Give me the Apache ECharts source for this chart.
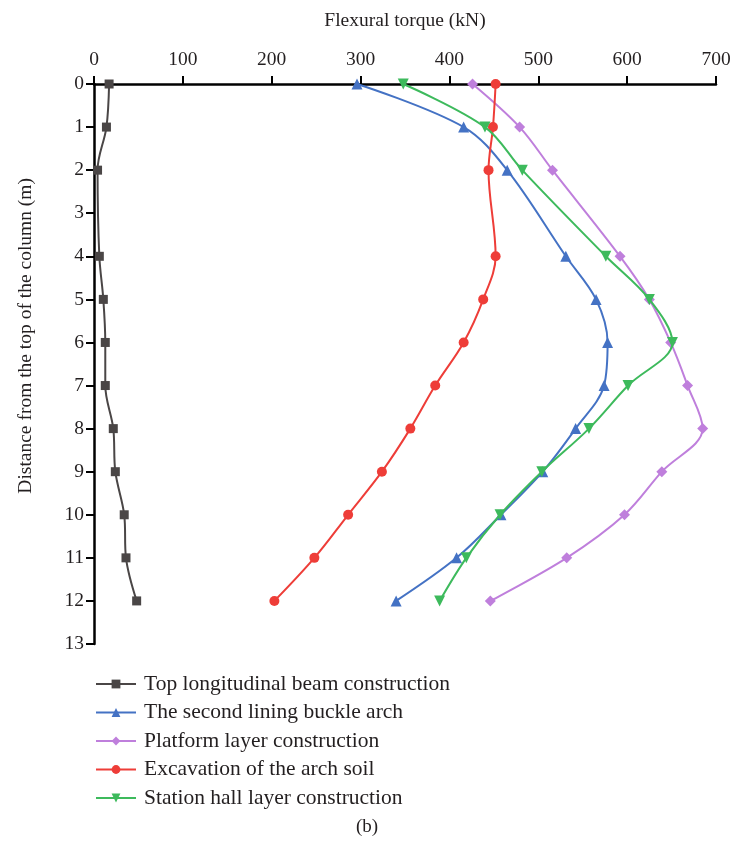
<!DOCTYPE html>
<html>
<head>
<meta charset="utf-8">
<script src="https://cdn.jsdelivr.net/npm/echarts@6/dist/echarts.min.js"></script>
<style>
html,body{margin:0;padding:0;background:#fff;}
#chart{width:735px;height:851px;}
</style>
</head>
<body>
<div id="chart"></div>
<script>
// Depths (m) at which values were measured
var depths = [0, 1, 2, 4, 5, 6, 7, 8, 9, 10, 11, 12];
var xTicks = [0, 100, 200, 300, 400, 500, 600, 700];

var topBeam      = [17, 14, 4, 6, 10.5, 12.7, 12.7, 21.7, 24, 34, 36, 48];
var secondLining = [296, 416, 465, 531, 565, 578, 574, 542, 505, 458, 408, 340];
var platform     = [426, 479, 516, 592, 625, 649, 668, 685, 639, 597, 532, 446];
var excavation   = [452, 449, 444, 452, 438, 416, 384, 356, 324, 286, 248, 203];
var stationHall  = [348, 440, 482, 576, 625, 651, 601, 557, 504, 457, 419, 389];

var names = [
  'Top longitudinal beam construction',
  'The second lining buckle arch',
  'Platform layer construction',
  'Excavation of the arch soil',
  'Station hall layer construction'
];
var colors = ['#4a4646', '#4472c4', '#bf7fdc', '#ee3d38', '#3dba5c'];
var symbols = ['rect', 'triangle', 'diamond', 'circle', 'triangle'];
var rotates = [0, 0, 0, 0, 180];
var sizes = [9, 11, 11, 10, 11];
var values = [topBeam, secondLining, platform, excavation, stationHall];

function pairs(v) {
  return v.map(function (x, i) { return [x, depths[i]]; });
}

var serif = 'Liberation Serif';
var txt = '#231f20';

var series = values.map(function (v, k) {
  return {
    name: names[k],
    type: 'line',
    smooth: 0.35,
    data: pairs(v),
    symbol: symbols[k],
    symbolSize: sizes[k],
    symbolRotate: rotates[k],
    showAllSymbol: true,
    lineStyle: { color: colors[k], width: 2 },
    itemStyle: { color: colors[k] },
    z: 2 + k
  };
});

var chart = echarts.init(document.getElementById('chart'), null, { renderer: 'canvas' });
chart.setOption({
  animation: false,
  backgroundColor: '#ffffff',
  grid: { left: 94, top: 84, width: 622, height: 560, containLabel: false },
  xAxis: {
    type: 'value',
    position: 'top',
    min: 0, max: 700, interval: 100,
    name: 'Flexural torque (kN)',
    nameLocation: 'middle',
    nameGap: 53,
    nameTextStyle: { fontFamily: serif, fontSize: 19.5, color: txt },
    axisLine: { show: true, onZero: false, lineStyle: { color: '#000', width: 2.5 } },
    axisTick: { show: true, inside: false, length: 8, lineStyle: { color: '#000', width: 2 } },
    axisLabel: {
      fontFamily: serif, fontSize: 19.5, color: txt, margin: 14,
      formatter: function (v) { return xTicks.indexOf(v) >= 0 ? String(v) : ''; }
    },
    splitLine: { show: false }
  },
  yAxis: {
    type: 'value',
    inverse: true,
    min: 0, max: 13, interval: 1,
    axisLine: { show: true, onZero: false, lineStyle: { color: '#000', width: 2.5 } },
    axisTick: { show: true, inside: false, length: 8, lineStyle: { color: '#000', width: 2 } },
    axisLabel: { fontFamily: serif, fontSize: 19.5, color: txt, margin: 10 },
    splitLine: { show: false }
  },
  legend: {
    orient: 'vertical',
    left: 90,
    top: 668,
    itemWidth: 40,
    itemHeight: 11,
    itemGap: 6.5,
    textStyle: { fontFamily: serif, fontSize: 21.5, lineHeight: 20, color: txt, padding: [0, 0, 0, 3] },
    data: names
  },
  graphic: [
    {
      type: 'text',
      left: 16,
      top: 178,
      rotation: Math.PI / 2,
      style: { text: 'Distance from the top of the column (m)', font: '19.5px "Liberation Serif"', fill: txt },
      originX: 0, originY: 0
    },
    {
      type: 'text',
      left: 356,
      top: 818,
      style: { text: '(b)', font: '19px "Liberation Serif"', fill: txt }
    }
  ],
  series: series
});
</script>
</body>
</html>
